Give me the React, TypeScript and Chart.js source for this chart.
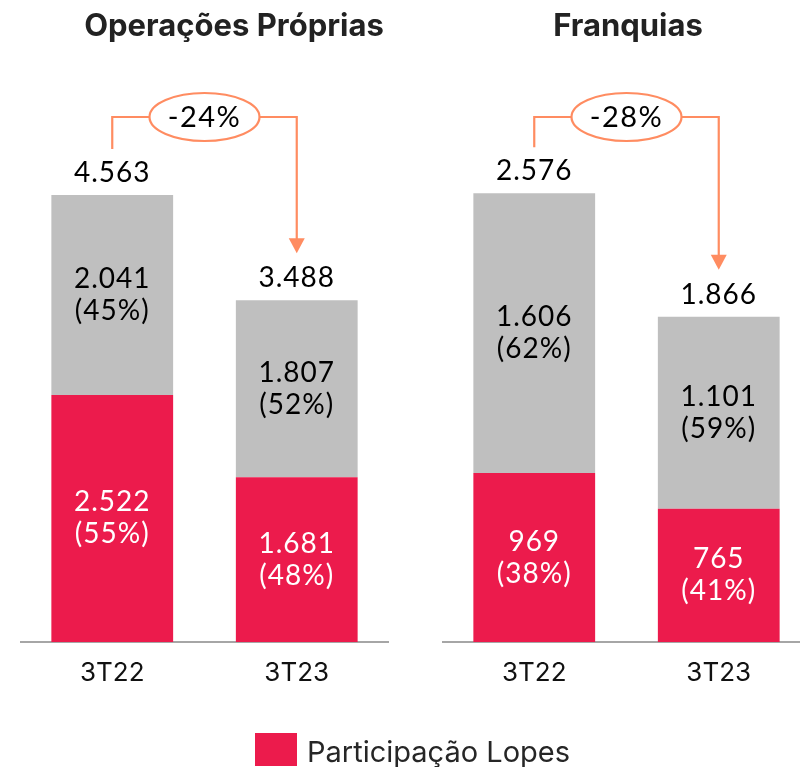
import React, { useEffect, useRef } from 'react';
import { Chart, registerables } from 'chart.js';

Chart.register(...registerables);

// ---- data ----
const categories = ['3T22', '3T23'];

const propriasTitle = 'Operações Próprias';
const propriasLopes = [2522, 1681];
const propriasOutros = [2041, 1807];
const propriasLopesPct = ['55%', '48%'];
const propriasOutrosPct = ['45%', '52%'];
const propriasTotal = [4563, 3488];
const propriasVariation = '-24%';

const franquiasTitle = 'Franquias';
const franquiasLopes = [969, 765];
const franquiasOutros = [1606, 1101];
const franquiasLopesPct = ['38%', '41%'];
const franquiasOutrosPct = ['62%', '59%'];
const franquiasTotal = [2576, 1866];
const franquiasVariation = '-28%';

const legendLabel = 'Participação Lopes';

// ---- styles ----
const RED = '#EC1B4C';
const GRAY = '#BFBFBF';
const ORANGE = '#FF8C61';
const NUM_FONT = 'Lato, "Open Sans", sans-serif';
const CAT_FONT = 'Inter, "Noto Sans", sans-serif';

function fmt(n: number): string {
  return String(Math.round(n)).replace(/\B(?=(\d{3})+(?!\d))/g, '.');
}

interface PanelProps {
  title: string;
  titleX: number;
  lopes: number[];
  outros: number[];
  lopesPct: string[];
  outrosPct: string[];
  total: number[];
  variation: string;
  yMax: number;
  left: number;
}

const labelsPlugin = {
  id: 'panelLabels',
  afterDatasetsDraw(chart: any, _args: any, opts: any) {
    const ctx = chart.ctx as CanvasRenderingContext2D;
    ctx.save();
    ctx.textAlign = 'center';
    ctx.textBaseline = 'middle';
    (ctx as any).letterSpacing = '1px';
    const numFont = `28px ${NUM_FONT}`;
    // segment labels
    const pcts = [opts.lopesPct, opts.outrosPct];
    chart.data.datasets.forEach((ds: any, di: number) => {
      const meta = chart.getDatasetMeta(di);
      meta.data.forEach((bar: any, i: number) => {
        const cy = (bar.y + bar.base) / 2;
        ctx.fillStyle = di === 0 ? '#FFFFFF' : '#000000';
        ctx.font = numFont;
        ctx.fillText(fmt(ds.data[i]), bar.x, cy - 16);
        ctx.fillText(`(${pcts[di][i]})`, bar.x, cy + 16);
      });
    });
    // totals
    const topMeta = chart.getDatasetMeta(1);
    const labelYs: number[] = [];
    const xs: number[] = [];
    topMeta.data.forEach((bar: any, i: number) => {
      const ly = bar.y - 22;
      labelYs.push(ly);
      xs.push(bar.x);
      ctx.fillStyle = '#000000';
      ctx.font = numFont;
      ctx.fillText(fmt(opts.total[i]), bar.x, ly);
    });
    // annotation
    const yTop = 117;
    const cx = (xs[0] + xs[1]) / 2;
    const rx = 55;
    const ry = 24;
    ctx.strokeStyle = ORANGE;
    ctx.lineWidth = 2.2;
    ctx.beginPath();
    ctx.moveTo(xs[0], labelYs[0] - 24);
    ctx.lineTo(xs[0], yTop);
    ctx.lineTo(cx - rx, yTop);
    ctx.stroke();
    const tipY = labelYs[1] - 25;
    ctx.beginPath();
    ctx.moveTo(cx + rx, yTop);
    ctx.lineTo(xs[1], yTop);
    ctx.lineTo(xs[1], tipY - 12);
    ctx.stroke();
    ctx.fillStyle = ORANGE;
    ctx.beginPath();
    ctx.moveTo(xs[1] - 8, tipY - 15);
    ctx.lineTo(xs[1] + 8, tipY - 15);
    ctx.lineTo(xs[1], tipY);
    ctx.closePath();
    ctx.fill();
    ctx.beginPath();
    ctx.ellipse(cx, yTop, rx, ry, 0, 0, Math.PI * 2);
    ctx.fillStyle = '#FFFFFF';
    ctx.fill();
    ctx.stroke();
    ctx.fillStyle = '#000000';
    ctx.font = `29px ${NUM_FONT}`;
    ctx.letterSpacing = '1.5px';
    ctx.fillText(opts.variation, cx, yTop + 1);
    // title
    (ctx as any).letterSpacing = '0px';
    ctx.fillStyle = '#222222';
    ctx.font = `bold 31px ${CAT_FONT}`;
    ctx.fillText(opts.title, opts.titleX, 27);
    ctx.restore();
  },
};

function Panel(p: PanelProps) {
  const ref = useRef<HTMLCanvasElement>(null);
  useEffect(() => {
    if (!ref.current) return;
    const chart = new Chart(ref.current, {
      type: 'bar',
      data: {
        labels: categories,
        datasets: [
          { label: legendLabel, data: p.lopes, backgroundColor: RED, barPercentage: 0.66, categoryPercentage: 1 },
          { label: 'Outros', data: p.outros, backgroundColor: GRAY, barPercentage: 0.66, categoryPercentage: 1 },
        ],
      },
      options: {
        responsive: false,
        animation: false,
        layout: { padding: { top: 60, left: 0, right: 0, bottom: 0 } },
        plugins: {
          legend: { display: false },
          tooltip: { enabled: false },
          title: { display: false },
          panelLabels: {
            lopesPct: p.lopesPct,
            outrosPct: p.outrosPct,
            total: p.total,
            variation: p.variation,
            title: p.title,
            titleX: p.titleX,
          },
        } as any,
        scales: {
          x: {
            stacked: true,
            grid: { display: false },
            border: { display: true, color: '#A6A6A6', width: 2 },
            ticks: { color: '#111111', font: { family: CAT_FONT, size: 26 }, padding: 8 },
            afterFit: (s: any) => {
              s.height = 125;
            },
          },
          y: { stacked: true, display: false, min: 0, max: p.yMax },
        },
      },
      plugins: [labelsPlugin],
    });
    return () => chart.destroy();
  }, []);
  return (
    <canvas
      ref={ref}
      width={369}
      height={767}
      style={{ position: 'absolute', left: p.left, top: 0, width: 369, height: 767 }}
    />
  );
}

export default function App() {
  return (
    <div
      style={{
        position: 'fixed',
        left: 0,
        top: 0,
        width: 800,
        height: 767,
        overflow: 'hidden',
        background: '#FFFFFF',
      }}
    >
      <Panel
        title={propriasTitle}
        titleX={214}
        lopes={propriasLopes}
        outros={propriasOutros}
        lopesPct={propriasLopesPct}
        outrosPct={propriasOutrosPct}
        total={propriasTotal}
        variation={propriasVariation}
        yMax={5941}
        left={20}
      />
      <Panel
        title={franquiasTitle}
        titleX={186}
        lopes={franquiasLopes}
        outros={franquiasOutros}
        lopesPct={franquiasLopesPct}
        outrosPct={franquiasOutrosPct}
        total={franquiasTotal}
        variation={franquiasVariation}
        yMax={3339}
        left={442}
      />
      <div
        style={{
          position: 'absolute',
          left: 255,
          top: 733,
          display: 'flex',
          alignItems: 'center',
          fontFamily: CAT_FONT,
          fontSize: 29,
          color: '#262626',
          whiteSpace: 'nowrap',
        }}
      >
        <div style={{ width: 42, height: 33, background: RED, marginRight: 10 }} />
        <span style={{ lineHeight: '33px', position: 'relative', top: 2 }}>{legendLabel}</span>
      </div>
    </div>
  );
}
